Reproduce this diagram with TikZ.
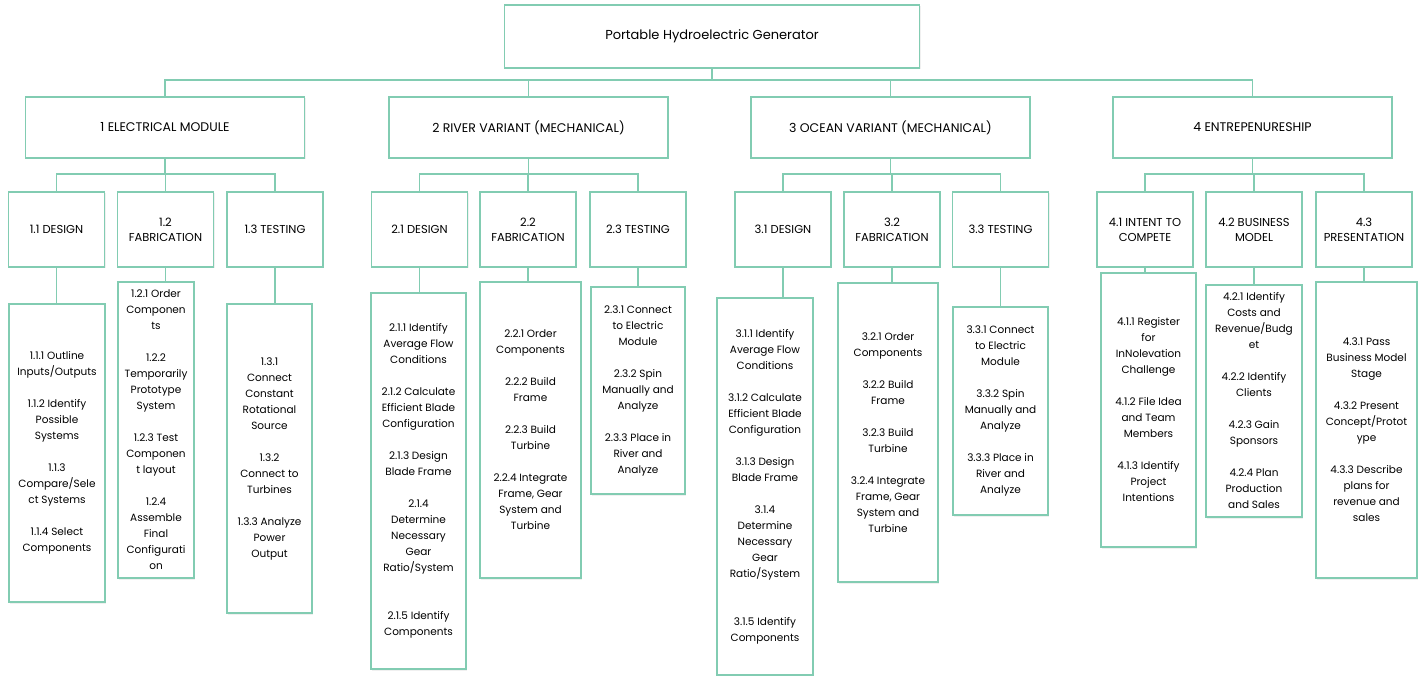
\documentclass[tikz,border=0pt]{standalone}
\usepackage{fontspec}
\setmainfont{Poppins}
\usepackage{tikz}
\usetikzlibrary{shadows}
\definecolor{wbsgreen}{RGB}{130,204,178}
\newcommand{\wbsgap}{\\[16pt]}

\begin{document}
\begin{tikzpicture}[x=1pt, y=-1pt,
    box/.style={draw=wbsgreen, line width=1.6pt, fill=white, align=center,
        inner sep=2pt, drop shadow={shadow xshift=1pt, shadow yshift=-1.5pt, opacity=0.12}},
    top/.style={box, font=\fontsize{13}{16}\selectfont},
    main/.style={box, minimum width=279, minimum height=61, font=\fontsize{12.5}{15}\selectfont},
    part/.style={box, minimum width=96, minimum height=75, font=\fontsize{11.5}{15}\selectfont},
    task/.style={box, font=\fontsize{10.5}{16}\selectfont},
    link/.style={draw=wbsgreen, line width=1.6pt}]
    \useasboundingbox (0,0) rectangle (1419,676);

    \node (root) at (712,36.5) [top, minimum width=415, minimum height=63] {Portable Hydroelectric Generator};

    \node (m1) at (165,127.5) [main] {1 ELECTRICAL MODULE};
    \node (m2) at (528.5,127.5) [main] {2 RIVER VARIANT (MECHANICAL)};
    \node (m3) at (890.5,127.5) [main] {3 OCEAN VARIANT (MECHANICAL)};
    \node (m4) at (1252.5,127.5) [main] {4 ENTREPENURESHIP};

    \node (d11) at (56.5,229.5) [part] {1.1 DESIGN};
    \node (d12) at (165.5,229.5) [part] {1.2\\FABRICATION};
    \node (d13) at (275,229.5) [part] {1.3 TESTING};
    \node (d21) at (419.5,229.5) [part] {2.1 DESIGN};
    \node (d22) at (528,229.5) [part] {2.2\\FABRICATION};
    \node (d23) at (638,229.5) [part] {2.3 TESTING};
    \node (d31) at (783,229.5) [part] {3.1 DESIGN};
    \node (d32) at (892,229.5) [part] {3.2\\FABRICATION};
    \node (d33) at (1000.5,229.5) [part] {3.3 TESTING};
    \node (d41) at (1145,229.5) [part] {4.1 INTENT TO\\COMPETE};
    \node (d42) at (1254,229.5) [part] {4.2 BUSINESS\\MODEL};
    \node (d43) at (1364,229.5) [part] {4.3\\PRESENTATION};

    \node (t11) at (57,453) [task, minimum width=96, minimum height=298]
        {1.1.1 Outline\\Inputs/Outputs\wbsgap 1.1.2 Identify\\Possible\\Systems\wbsgap
         1.1.3\\Compare/Sele\\ct Systems\wbsgap 1.1.4 Select\\Components};
    \node (t12) at (156,430) [task, minimum width=76, minimum height=296]
        {1.2.1 Order\\Componen\\ts\wbsgap 1.2.2\\Temporarily\\Prototype\\System\wbsgap
         1.2.3 Test\\Componen\\t layout\wbsgap 1.2.4\\Assemble\\Final\\Configurati\\on};
    \node (t13) at (269.5,458.5) [task, minimum width=85, minimum height=309]
        {1.3.1\\Connect\\Constant\\Rotational\\Source\wbsgap 1.3.2\\Connect to\\Turbines\wbsgap
         1.3.3 Analyze\\Power\\Output};

    \node (t21) at (418.5,481) [task, minimum width=95, minimum height=376]
        {2.1.1 Identify\\Average Flow\\Conditions\wbsgap 2.1.2 Calculate\\Efficient Blade\\Configuration\wbsgap
         2.1.3 Design\\Blade Frame\wbsgap 2.1.4\\Determine\\Necessary\\Gear\\Ratio/System\\[32pt]
         2.1.5 Identify\\Components};
    \node (t22) at (530.5,430) [task, minimum width=101, minimum height=296]
        {2.2.1 Order\\Components\wbsgap 2.2.2 Build\\Frame\wbsgap 2.2.3 Build\\Turbine\wbsgap
         2.2.4 Integrate\\Frame, Gear\\System and\\Turbine};
    \node (t23) at (638,390.5) [task, minimum width=94, minimum height=207]
        {2.3.1 Connect\\to Electric\\Module\wbsgap 2.3.2 Spin\\Manually and\\Analyze\wbsgap
         2.3.3 Place in\\River and\\Analyze};

    \node (t31) at (765,486.5) [task, minimum width=96, minimum height=377]
        {3.1.1 Identify\\Average Flow\\Conditions\wbsgap 3.1.2 Calculate\\Efficient Blade\\Configuration\wbsgap
         3.1.3 Design\\Blade Frame\wbsgap 3.1.4\\Determine\\Necessary\\Gear\\Ratio/System\\[32pt]
         3.1.5 Identify\\Components};
    \node (t32) at (888,432.5) [task, minimum width=100, minimum height=299]
        {3.2.1 Order\\Components\wbsgap 3.2.2 Build\\Frame\wbsgap 3.2.3 Build\\Turbine\wbsgap
         3.2.4 Integrate\\Frame, Gear\\System and\\Turbine};
    \node (t33) at (1000.5,411) [task, minimum width=95, minimum height=208]
        {3.3.1 Connect\\to Electric\\Module\wbsgap 3.3.2 Spin\\Manually and\\Analyze\wbsgap
         3.3.3 Place in\\River and\\Analyze};

    \node (t41) at (1148.5,410) [task, minimum width=95, minimum height=274]
        {4.1.1 Register\\for\\InNolevation\\Challenge\wbsgap 4.1.2 File Idea\\and Team\\Members\wbsgap
         4.1.3 Identify\\Project\\Intentions};
    \node (t42) at (1254,401) [task, minimum width=96, minimum height=232]
        {4.2.1 Identify\\Costs and\\Revenue/Budg\\et\wbsgap 4.2.2 Identify\\Clients\wbsgap
         4.2.3 Gain\\Sponsors\wbsgap 4.2.4 Plan\\Production\\and Sales};
    \node (t43) at (1366.5,430) [task, minimum width=101, minimum height=296]
        {4.3.1 Pass\\Business Model\\Stage\wbsgap 4.3.2 Present\\Concept/Protot\\ype\wbsgap
         4.3.3 Describe\\plans for\\revenue and\\sales};

    \foreach \m in {m1,m2,m3,m4}
        \draw[link] (root.south) -- ++(0,11) -| (\m.north);
    \foreach \m/\d in {m1/d11,m1/d12,m1/d13,m2/d21,m2/d22,m2/d23,
                       m3/d31,m3/d32,m3/d33,m4/d41,m4/d42,m4/d43}
        \draw[link] (\m.south) -- ++(0,15) -| (\d.north);
    \foreach \d/\t in {d11/t11,d12/t12,d13/t13,d21/t21,d22/t22,d23/t23,
                       d31/t31,d32/t32,d33/t33,d41/t41,d42/t42,d43/t43}
        \draw[link] (\d.south) -- (\d.south |- \t.north);
\end{tikzpicture}
\end{document}
